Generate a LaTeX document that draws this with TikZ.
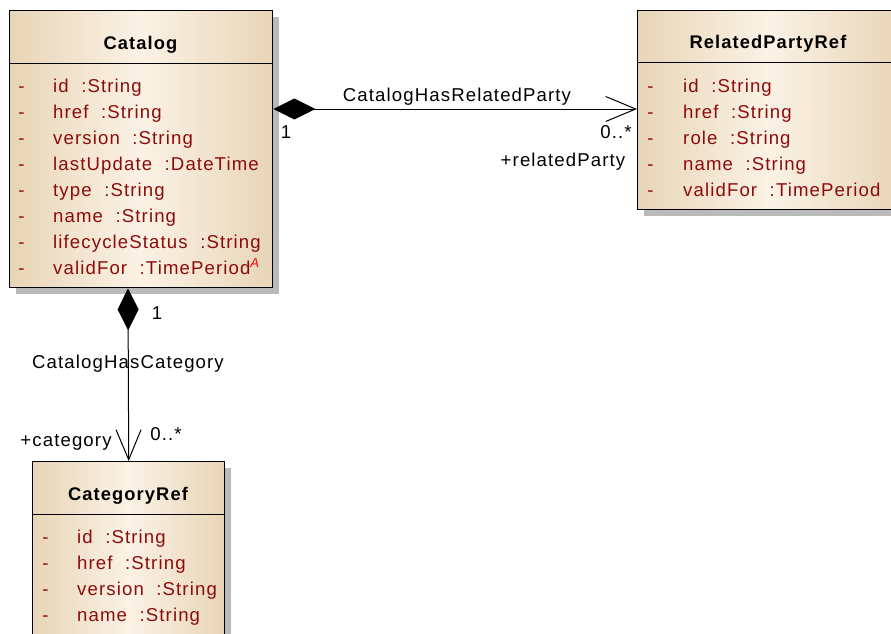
\documentclass[tikz,border=0pt]{standalone}
\usepackage{fontspec}
\setmainfont{Liberation Sans}[LetterSpace=6]
\usetikzlibrary{shadows,arrows.meta}

\definecolor{attrred}{RGB}{140,12,12}
\definecolor{boxedge}{RGB}{232,213,183}
\definecolor{boxmid}{RGB}{251,242,229}

\tikzset{
  classbox/.style={draw=black, line width=1.4pt, rectangle, anchor=north west, inner sep=0pt,
    left color=boxedge, right color=boxedge, middle color=boxmid,
    drop shadow={shadow xshift=6pt, shadow yshift=-6pt, fill=black!27, opacity=1}},
  divider/.style={line width=1pt},
  umlfont/.style={font=\fontsize{18.6}{21}\selectfont},
  classname/.style={umlfont, font=\bfseries\fontsize{18.3}{21}\selectfont, anchor=base, inner sep=0pt},
  attr/.style={umlfont, anchor=base west, text=attrred, inner sep=0pt},
  vis/.style={umlfont, anchor=base, text=attrred, inner sep=0pt},
  lbl/.style={umlfont, anchor=base, inner sep=0pt},
  comp/.style={line width=1pt,
    {Diamond[length=42pt,width=21pt]}-{Straight Barb[length=30pt,width=25pt]}}
}

\begin{document}
\begin{tikzpicture}[x=1pt,y=-1pt]
	\useasboundingbox (0,0) rectangle (891,633);
	\clip (0,0) rectangle (891,633);

	% classes
	\node[classbox, minimum width=263pt, minimum height=277pt] (catalog) at (9,10) {};
	\node[classbox, minimum width=262pt, minimum height=199pt] (related) at (637,10) {};
	\node[classbox, minimum width=192pt, minimum height=200pt] (category) at (32,461) {};

	\draw[divider] (catalog.west |- 0,63) -- (catalog.east |- 0,63);
	\draw[divider] (related.west |- 0,62) -- (related.east |- 0,62);
	\draw[divider] (category.west |- 0,514) -- (category.east |- 0,514);

	\node[classname] (catalog-name) at (140.5,49) {Catalog};
	\node[classname] (related-name) at (768,48.5) {RelatedPartyRef};
	\node[classname] (category-name) at (128,500) {CategoryRef};

	% attributes
	\foreach \n/\t [count=\i] in {id/String, href/String, version/String, lastUpdate/DateTime,
		type/String, name/String, lifecycleStatus/String,
		validFor/{TimePeriod\textsuperscript{\textcolor{red}{\itshape A}}}} {
		\node[vis] (catalog-vis-\i) at (21.5,66+26*\i) {-};
		\node[attr] (catalog-attr-\i) at (53,66+26*\i) {\n\ \ :\t};
	}
	\foreach \n/\t [count=\i] in {id/String, href/String, role/String, name/String, validFor/TimePeriod} {
		\node[vis] (related-vis-\i) at (650.5,66+26*\i) {-};
		\node[attr] (related-attr-\i) at (683,66+26*\i) {\n\ \ :\t};
	}
	\foreach \n/\t [count=\i] in {id/String, href/String, version/String, name/String} {
		\node[vis] (category-vis-\i) at (45.5,517+26*\i) {-};
		\node[attr] (category-attr-\i) at (77,517+26*\i) {\n\ \ :\t};
	}

	% associations
	\draw[comp] (catalog.east |- 0,109) -- (related.west |- 0,109);
	\draw[comp] (catalog.south -| 128,0) -- (category.north);

	\node[lbl] (related-assoc) at (457,101.5) {CatalogHasRelatedParty};
	\node[lbl] (related-one) at (286,138) {1};
	\node[lbl] (related-many) at (616,138) {0..*};
	\node[lbl] (related-role) at (563,166.5) {+relatedParty};

	\node[lbl] (category-assoc) at (128,368) {CatalogHasCategory};
	\node[lbl] (category-one) at (157,319) {1};
	\node[lbl] (category-many) at (166,440) {0..*};
	\node[lbl] (category-role) at (66,446.5) {+category};
\end{tikzpicture}
\end{document}
